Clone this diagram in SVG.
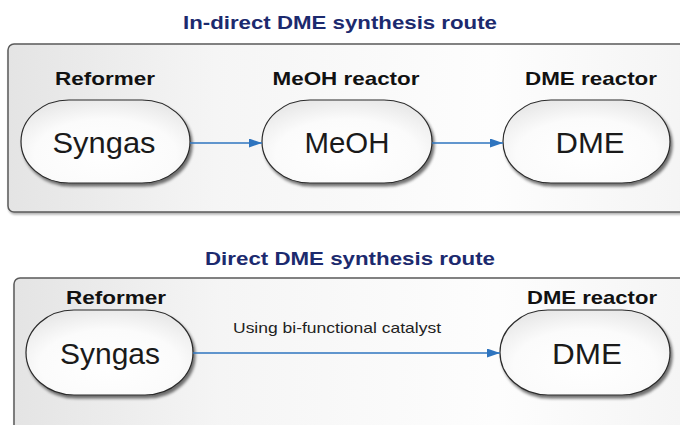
<svg xmlns="http://www.w3.org/2000/svg" width="680" height="425" viewBox="0 0 680 425">
  <defs>
    <linearGradient id="panelFill" x1="0" y1="0" x2="1" y2="0">
      <stop offset="0" stop-color="#e4e4e4"/>
      <stop offset="0.3" stop-color="#f5f5f5"/>
      <stop offset="0.7" stop-color="#fdfdfd"/>
      <stop offset="1" stop-color="#f4f4f4"/>
    </linearGradient>
    <radialGradient id="nodeFill" cx="0.5" cy="0.65" r="0.7">
      <stop offset="0" stop-color="#ffffff"/>
      <stop offset="0.6" stop-color="#fbfbfb"/>
      <stop offset="1" stop-color="#e6e6e6"/>
    </radialGradient>
    <filter id="nodeShadow" x="-10%" y="-10%" width="125%" height="130%">
      <feGaussianBlur in="SourceAlpha" stdDeviation="1.5"/>
      <feOffset dx="2" dy="3" result="off"/>
      <feComponentTransfer><feFuncA type="linear" slope="0.55"/></feComponentTransfer>
      <feMerge><feMergeNode/><feMergeNode in="SourceGraphic"/></feMerge>
    </filter>
    <filter id="panelShadow" x="-5%" y="-5%" width="110%" height="115%">
      <feGaussianBlur in="SourceAlpha" stdDeviation="1"/>
      <feOffset dx="1" dy="2" result="off"/>
      <feComponentTransfer><feFuncA type="linear" slope="0.3"/></feComponentTransfer>
      <feMerge><feMergeNode/><feMergeNode in="SourceGraphic"/></feMerge>
    </filter>
    <marker id="arrow" viewBox="0 0 13 9" refX="13" refY="4.5" markerWidth="13" markerHeight="9" markerUnits="userSpaceOnUse" orient="auto">
      <path d="M0,0 L13,4.5 L0,9 Z" fill="#2e74bf"/>
    </marker>
    <style>
      .panel { fill: url(#panelFill); stroke: #5a5a5a; stroke-width: 1.5; filter: url(#panelShadow); }
      .node { fill: url(#nodeFill); stroke: #2b2b2b; stroke-width: 1.2; filter: url(#nodeShadow); }
      .title { font-family: "Liberation Sans", Arial, sans-serif; font-weight: bold; font-size: 19px; fill: #1c2a6e; text-anchor: middle; }
      .role { font-family: "Liberation Sans", Arial, sans-serif; font-weight: bold; font-size: 19px; fill: #111; text-anchor: middle; }
      .name { font-family: "Liberation Sans", Arial, sans-serif; font-size: 30px; fill: #1a1a1a; text-anchor: middle; }
      .cap { font-family: "Liberation Sans", Arial, sans-serif; font-size: 15px; fill: #222; text-anchor: middle; }
      .flow { stroke: #2e74bf; stroke-width: 1.5; fill: none; marker-end: url(#arrow); }
    </style>
  </defs>

  <!-- indirect route -->
  <text class="title" x="340" y="29" textLength="314" lengthAdjust="spacingAndGlyphs">In-direct DME synthesis route</text>
  <rect class="panel" x="8" y="44" width="690" height="168" rx="6"/>

  <g id="indirect-syngas">
    <text class="role" x="105" y="85" textLength="100" lengthAdjust="spacingAndGlyphs">Reformer</text>
    <rect class="node" x="21" y="100" width="169" height="83" rx="48" ry="41.5"/>
    <text class="name" x="104" y="153" textLength="103" lengthAdjust="spacingAndGlyphs">Syngas</text>
  </g>
  <g id="indirect-meoh">
    <text class="role" x="346" y="85" textLength="147" lengthAdjust="spacingAndGlyphs">MeOH reactor</text>
    <rect class="node" x="262" y="100" width="170" height="83" rx="48" ry="41.5"/>
    <text class="name" x="347" y="153" textLength="85" lengthAdjust="spacingAndGlyphs">MeOH</text>
  </g>
  <g id="indirect-dme">
    <text class="role" x="591" y="85" textLength="132" lengthAdjust="spacingAndGlyphs">DME reactor</text>
    <rect class="node" x="503" y="100" width="167" height="83" rx="48" ry="41.5"/>
    <text class="name" x="590" y="153" textLength="69" lengthAdjust="spacingAndGlyphs">DME</text>
  </g>

  <!-- direct route -->
  <text class="title" x="350" y="265" textLength="290" lengthAdjust="spacingAndGlyphs">Direct DME synthesis route</text>
  <rect class="panel" x="14" y="278" width="690" height="170" rx="6"/>

  <g id="direct-syngas">
    <text class="role" x="116" y="304" textLength="100" lengthAdjust="spacingAndGlyphs">Reformer</text>
    <rect class="node" x="26" y="310" width="167" height="85" rx="48" ry="42.5"/>
    <text class="name" x="110" y="364" textLength="100" lengthAdjust="spacingAndGlyphs">Syngas</text>
  </g>
  <g id="direct-dme">
    <text class="role" x="592" y="304" textLength="130" lengthAdjust="spacingAndGlyphs">DME reactor</text>
    <rect class="node" x="500" y="310" width="170" height="85" rx="48" ry="42.5"/>
    <text class="name" x="587" y="364" textLength="70" lengthAdjust="spacingAndGlyphs">DME</text>
  </g>

  <g id="connectors">
    <line class="flow" x1="190" y1="143" x2="262" y2="143"/>
    <line class="flow" x1="432" y1="143" x2="503" y2="143"/>
    <line class="flow" x1="193" y1="353" x2="500" y2="353"/>
    <text class="cap" x="337" y="333" textLength="208" lengthAdjust="spacingAndGlyphs">Using bi-functional catalyst</text>
  </g>
</svg>
